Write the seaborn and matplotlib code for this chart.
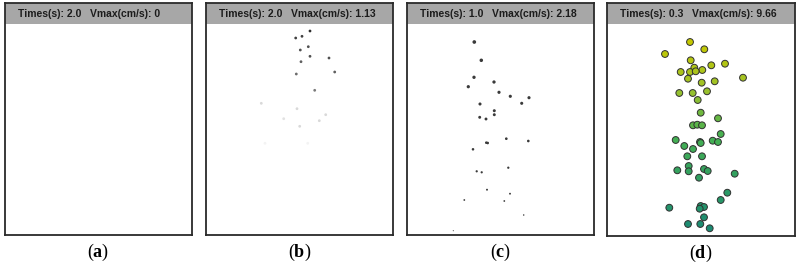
import matplotlib

matplotlib.use("Agg")
import matplotlib.pyplot as plt
import numpy as np
import pandas as pd
import seaborn as sns

sns.set_theme(style="white")
plt.rcParams["font.family"] = ["Liberation Sans", "DejaVu Sans"]
plt.rcParams["mathtext.fontset"] = "custom"
plt.rcParams["mathtext.rm"] = "Liberation Serif"
plt.rcParams["mathtext.bf"] = "Liberation Serif:bold"

# panel headers
panel_tags = ["a", "b", "c", "d"]
panel_times = ["2.0", "2.0", "1.0", "0.3"]
panel_vmax = ["0", "1.13", "2.18", "9.66"]

# particle positions, in pixels from the top-left corner of each panel box
b_x = [104.0, 96.0, 89.7, 102.3, 94.3, 104.0, 123.0, 95.0, 128.7, 90.3,
       108.7, 55.3, 91.0, 119.7, 77.7, 113.3, 93.7, 59.0, 101.7]
b_y = [28.0, 33.3, 35.0, 43.7, 47.0, 53.3, 55.0, 58.7, 69.0, 71.0,
       87.3, 100.3, 105.7, 111.7, 115.7, 117.7, 123.3, 140.3, 140.3]
b_shade = [0.85, 0.8, 0.8, 0.75, 0.75, 0.75, 0.75, 0.7, 0.7, 0.65,
           0.6, 0.25, 0.25, 0.25, 0.2, 0.25, 0.25, 0.1, 0.1]

c_x = [67.3, 74.3, 67.0, 87.0, 61.3, 92.0, 103.3, 122.0, 114.7, 73.0,
       87.3, 87.3, 72.7, 79.0, 99.3, 121.3, 79.3, 80.7, 66.0, 101.3,
       69.7, 74.7, 80.0, 103.0, 57.3, 97.3, 116.7, 46.3]
c_y = [39.0, 57.3, 74.3, 79.0, 83.7, 89.3, 93.3, 94.7, 100.3, 101.0,
       107.7, 111.7, 114.3, 116.0, 135.7, 138.0, 139.7, 140.0, 146.3, 164.7,
       168.3, 169.3, 186.7, 190.7, 197.0, 198.0, 212.0, 227.7]

d_x = [83.0, 97.3, 58.0, 83.7, 118.0, 104.3, 87.3, 95.3, 73.7, 83.0,
       88.7, 136.0, 81.0, 107.7, 94.7, 72.3, 85.7, 100.0, 90.7, 93.7,
       111.0, 86.0, 90.3, 95.0, 113.7, 68.7, 105.7, 111.0, 93.0, 93.7,
       77.3, 86.0, 80.3, 95.0, 81.7, 70.3, 81.7, 97.0, 100.7, 127.7,
       92.0, 120.3, 113.7, 62.3, 93.7, 97.0, 92.7, 97.0, 81.0, 93.3, 102.7]
d_y = [39.0, 46.3, 51.0, 57.3, 60.7, 62.3, 64.7, 67.0, 69.0, 69.0,
       68.3, 74.7, 75.7, 78.3, 79.7, 90.0, 90.0, 88.3, 97.0, 109.7,
       115.3, 122.3, 121.7, 122.3, 131.0, 137.0, 137.7, 139.0, 139.0, 140.0,
       143.0, 146.0, 153.3, 153.3, 163.0, 167.3, 168.3, 166.0, 168.0, 170.7,
       174.7, 189.7, 197.0, 204.7, 203.0, 204.0, 205.7, 214.3, 221.0, 221.0, 225.3]

# panel boxes in pixels (left, top, right, bottom) on a 799x267 canvas
W, H = 799, 267
boxes = [(5, 3, 192, 235), (206, 3, 393, 235), (407, 3, 594, 235), (607, 3, 795, 236)]
HEADER = 21

fig = plt.figure(figsize=(W / 100, H / 100), dpi=100)
axes = []
for (l, t, r, b) in boxes:
    ax = fig.add_axes([l / W, 1 - b / H, (r - l) / W, (b - t) / H])
    ax.set_xlim(0, r - l)
    ax.set_ylim(b - t, 0)
    axes.append(ax)

# (b) fading particles
df_b = pd.DataFrame({"x": b_x, "y": b_y, "shade": b_shade})
sns.scatterplot(data=df_b, x="x", y="y", hue="shade", palette="Greys",
                hue_norm=(0, 1), s=4, linewidth=0, legend=False, ax=axes[1])

# (c) dark particles, shrinking with depth
df_c = pd.DataFrame({"x": c_x, "y": c_y})
df_c["lift"] = boxes[2][3] - boxes[2][1] - df_c["y"]
sns.scatterplot(data=df_c, x="x", y="y", size="lift", sizes=(0.6, 7),
                color="#3a3a3a", linewidth=0, legend=False, ax=axes[2])

# (d) coloured particles
df_d = pd.DataFrame({"x": d_x, "y": d_y})
cmap = sns.blend_palette(["#c4c800", "#9cc22c", "#46b052", "#2f9e62", "#1b8a72"], as_cmap=True)
sns.scatterplot(data=df_d, x="x", y="y", hue="y", palette=cmap,
                hue_norm=(40, 225), s=24, edgecolor="#303030", linewidth=0.7,
                legend=False, ax=axes[3])

for ax, tag, tm, vm in zip(axes, panel_tags, panel_times, panel_vmax):
    ax.axhspan(0, HEADER, color="#a7a7a7", zorder=0, lw=0)
    ax.text(13, HEADER / 2 + 0.5, f"Times(s): {tm}   Vmax(cm/s): {vm}",
            fontsize=7.5, fontweight="bold", color="#1c1c1c", va="center", ha="left")
    ax.set_xticks([])
    ax.set_yticks([])
    ax.set_xlabel("")
    ax.set_ylabel("")
    for sp in ax.spines.values():
        sp.set_visible(True)
        sp.set_color("#2a2a2a")
        sp.set_linewidth(1.3)
    ax.text(0.5, -0.075, f"($\\mathbf{{{tag}}}$)", transform=ax.transAxes,
            ha="center", va="center", fontsize=13, color="black",
            family="Liberation Serif")

fig.savefig("out.png", dpi=100)
